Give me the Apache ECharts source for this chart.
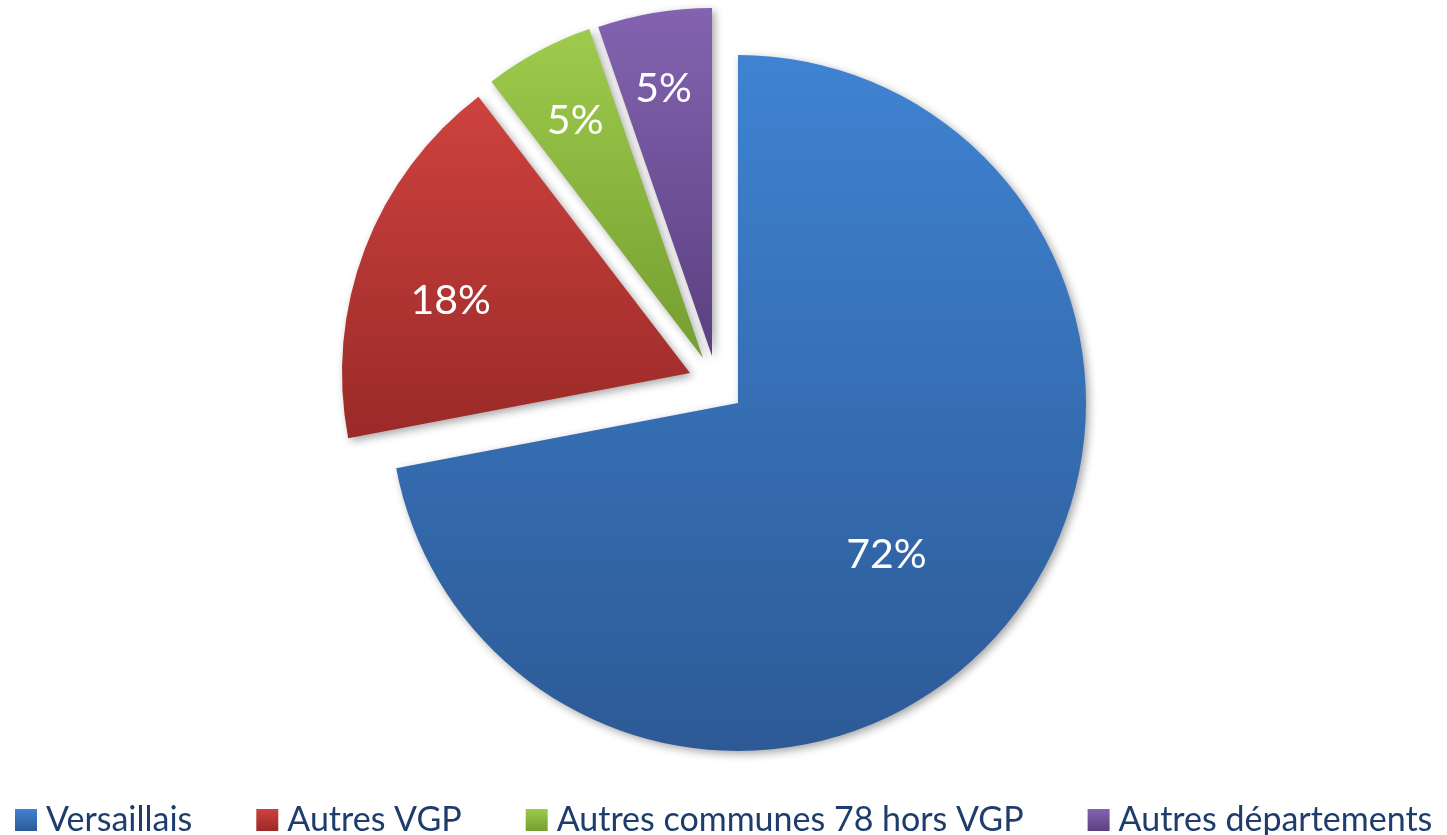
<!DOCTYPE html>
<html>
<head>
<meta charset="utf-8">
<script src="https://cdn.jsdelivr.net/npm/echarts@6/dist/echarts.min.js"></script>
<style>
  html, body { margin: 0; padding: 0; background: #fff; }
  #chart { width: 1447px; height: 835px; }
</style>
</head>
<body>
<div id="chart"></div>
<script>
// data
const categories = ['Versaillais', 'Autres VGP', 'Autres communes 78 hors VGP', 'Autres départements']
const values = [72.0, 17.6, 5.1, 5.3]

// style / layout
const gradients = [
  ['#3f83d2', '#2d5a96'],
  ['#ce423e', '#9a2a28'],
  ['#9ecb4c', '#749e30'],
  ['#8363b0', '#5b4080']
]
const pieCenter = [738, 403]
const pieRadius = 348
// explosion of each slice (px)
const explode = [[0, 0], [-48, -30], [-35, -45], [-26, -47]]
// label nudge from the default inside spot
const labelShift = [[12, 39], [-74, -9], [-44, -81], [-19, -93]]

const chart = echarts.init(document.getElementById('chart'))

const grad = (c) => new echarts.graphic.LinearGradient(0, 0, 0, 1, [
  { offset: 0, color: c[0] },
  { offset: 1, color: c[1] }
])

// one pie per slice so each one can be pulled out by its own amount
const series = categories.map((cat, i) => ({
  type: 'pie',
  center: [pieCenter[0] + explode[i][0], pieCenter[1] + explode[i][1]],
  radius: pieRadius,
  startAngle: 90,
  clockwise: true,
  avoidLabelOverlap: false,
  silent: true,
  z: 2 + i,
  label: {
    show: true,
    position: 'inside',
    color: '#fff',
    fontFamily: 'Lato',
    fontSize: 41,
    formatter: (p) => Math.round(p.percent) + '%'
  },
  labelLine: { show: false },
  labelLayout: () => ({ dx: labelShift[i][0], dy: labelShift[i][1] }),
  emphasis: { disabled: true },
  data: values.map((v, j) => j === i
    ? {
        name: cat,
        value: v,
        itemStyle: {
          color: grad(gradients[i]),
          borderWidth: 0,
          shadowBlur: 8,
          shadowOffsetX: 3,
          shadowOffsetY: 3,
          shadowColor: 'rgba(0,0,0,0.35)'
        }
      }
    : {
        name: '',
        value: v,
        itemStyle: { color: 'rgba(0,0,0,0)', borderWidth: 0 },
        label: { show: false }
      })
}))

chart.setOption({
  animation: false,
  backgroundColor: '#fff',
  legend: {
    data: categories,
    left: 10,
    top: 798,
    icon: 'rect',
    itemWidth: 22,
    itemHeight: 22,
    itemGap: 64,
    selectedMode: false,
    itemStyle: { shadowBlur: 0, shadowOffsetX: 0, shadowOffsetY: 0 },
    textStyle: {
      fontFamily: 'Lato',
      fontSize: 34,
      color: '#1f3d6c',
      padding: [0, 0, 0, 4]
    }
  },
  series
})
</script>
</body>
</html>
